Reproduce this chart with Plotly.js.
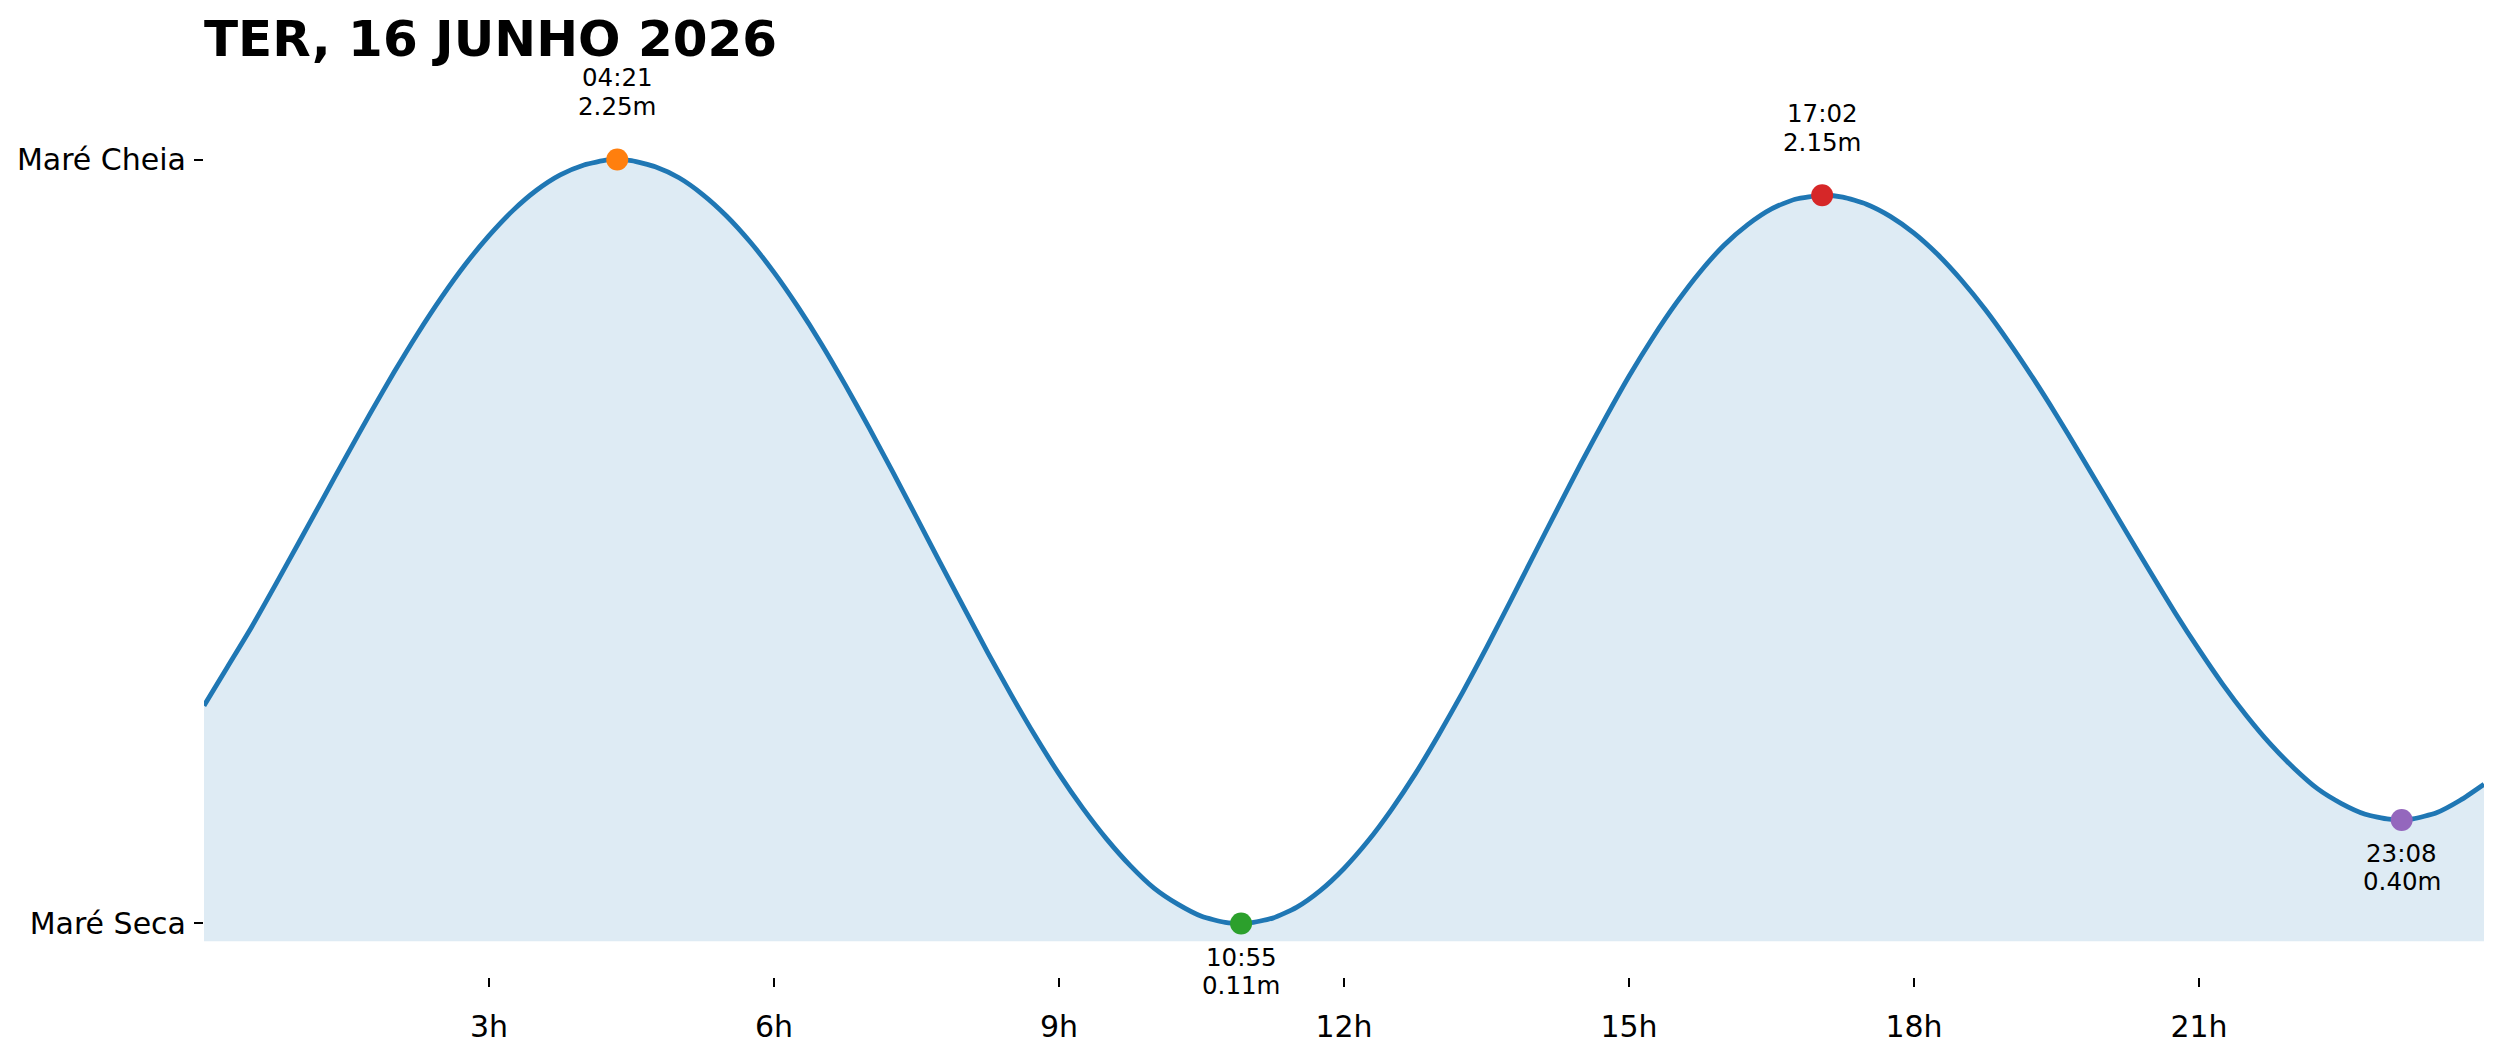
<!DOCTYPE html>
<html>
<head>
<meta charset="utf-8">
<script src="https://cdn.plot.ly/plotly-3.0.1.min.js"></script>
<style>html,body{margin:0;padding:0;background:#fff}#chart{width:2501px;height:1062px}</style>
</head>
<body>
<div id="chart"></div>
<script>
// Tide curve (hours, metres)
const hours = [0, 0.25, 0.5, 0.75, 1, 1.25, 1.5, 1.75, 2, 2.25, 2.5, 2.75, 3, 3.25, 3.5, 3.75, 4, 4.25, 4.35, 4.5, 4.75,
  5, 5.25, 5.5, 5.75, 6, 6.25, 6.5, 6.75, 7, 7.25, 7.5, 7.75, 8, 8.25, 8.5, 8.75, 9, 9.25, 9.5, 9.75, 10, 10.25, 10.5, 10.75, 10.9167,
  11, 11.25, 11.5, 11.75, 12, 12.25, 12.5, 12.75, 13, 13.25, 13.5, 13.75, 14, 14.25, 14.5, 14.75, 15, 15.25, 15.5, 15.75, 16, 16.25, 16.5, 16.75, 17.0333,
  17.25, 17.5, 17.75, 18, 18.25, 18.5, 18.75, 19, 19.25, 19.5, 19.75, 20, 20.25, 20.5, 20.75, 21, 21.25, 21.5, 21.75, 22, 22.25, 22.5, 22.75, 23, 23.1333,
  23.25, 23.5, 23.75, 24];
const heights = [0.72, 0.83, 0.94, 1.058, 1.178, 1.299, 1.42, 1.539, 1.654, 1.763, 1.864, 1.956, 2.037, 2.107, 2.164, 2.207, 2.235, 2.249, 2.25, 2.247, 2.23,
  2.199, 2.152, 2.092, 2.019, 1.934, 1.838, 1.733, 1.619, 1.499, 1.375, 1.248, 1.12, 0.994, 0.869, 0.749, 0.635, 0.529, 0.433, 0.347, 0.272, 0.209, 0.164, 0.13, 0.113, 0.11,
  0.111, 0.125, 0.155, 0.202, 0.264, 0.34, 0.429, 0.529, 0.64, 0.758, 0.883, 1.012, 1.143, 1.273, 1.402, 1.525, 1.643, 1.751, 1.849, 1.936, 2.01, 2.068, 2.112, 2.139, 2.15,
  2.145, 2.125, 2.091, 2.044, 1.984, 1.912, 1.83, 1.738, 1.639, 1.534, 1.424, 1.312, 1.2, 1.089, 0.98, 0.877, 0.78, 0.692, 0.613, 0.545, 0.487, 0.446, 0.416, 0.402, 0.40,
  0.403, 0.42, 0.455, 0.50];

// Extremes
const extremeTimes = ["04:21", "10:55", "17:02", "23:08"];
const extremeHours = [4.35, 10.9167, 17.0333, 23.1333];
const extremeHeights = [2.25, 0.11, 2.15, 0.40];
const extremeColors = ["#ff7f0e", "#2ca02c", "#d62728", "#9467bd"];
const extremeAbove = [true, false, true, false];

const baseLevel = 0.06;
const xTickVals = [3, 6, 9, 12, 15, 18, 21];
const xTickText = ["3h", "6h", "9h", "12h", "15h", "18h", "21h"];
const yTickVals = [0.11, 2.25];
const yTickText = ["Maré Seca", "Maré Cheia"];
const titleText = "TER, 16 JUNHO 2026";

const FONT = "DejaVu Sans, Liberation Sans, sans-serif";

const traces = [
  {x: hours, y: hours.map(() => baseLevel), mode: "lines", line: {width: 0, color: "rgba(0,0,0,0)"}, hoverinfo: "skip", showlegend: false},
  {x: hours, y: heights, mode: "lines", fill: "tonexty", fillcolor: "rgba(31,119,180,0.15)",
   line: {color: "#1f77b4", width: 4.8, shape: "spline", smoothing: 0.6}, showlegend: false},
  {x: extremeHours, y: extremeHeights, mode: "markers", marker: {size: 22, color: extremeColors, line: {width: 0}}, showlegend: false}
];

const annotations = [];
extremeHours.forEach((h, i) => {
  const up = extremeAbove[i];
  annotations.push({x: h, y: extremeHeights[i], xref: "x", yref: "y", text: extremeTimes[i], showarrow: false,
    xanchor: "center", yanchor: "middle", yshift: up ? 82 : -34, borderpad: 0, font: {family: FONT, size: 24.5, color: "#000"}});
  annotations.push({x: h, y: extremeHeights[i], xref: "x", yref: "y", text: extremeHeights[i].toFixed(2) + "m", showarrow: false,
    xanchor: "center", yanchor: "middle", yshift: up ? 53 : -62, borderpad: 0, font: {family: FONT, size: 24.5, color: "#000"}});
});

const layout = {
  width: 2501, height: 1062,
  paper_bgcolor: "#fff", plot_bgcolor: "#fff",
  margin: {l: 204, r: 17, t: 50, b: 85, pad: 0},
  showlegend: false,
  title: {text: "<b>" + titleText + "</b>", x: 204 / 2501, xref: "container", xanchor: "left",
    y: 1 - 38 / 1062, yref: "container", yanchor: "middle", font: {family: FONT, size: 50, color: "#000"}},
  xaxis: {range: [0, 24], tickvals: xTickVals, ticktext: xTickText, ticks: "outside", ticklen: 9, tickwidth: 2, tickcolor: "#000",
    showgrid: false, zeroline: false, showline: false, ticklabelstandoff: 14, tickfont: {family: FONT, size: 30, color: "#000"}},
  yaxis: {range: [-0.04, 2.557], tickvals: yTickVals, ticktext: yTickText, ticks: "outside", ticklen: 9, tickwidth: 2, tickcolor: "#000",
    showgrid: false, zeroline: false, showline: false, ticklabelstandoff: 2, tickfont: {family: FONT, size: 30, color: "#000"}},
  annotations: annotations
};

Plotly.newPlot("chart", traces, layout, {staticPlot: true, displayModeBar: false});
</script>
</body>
</html>
